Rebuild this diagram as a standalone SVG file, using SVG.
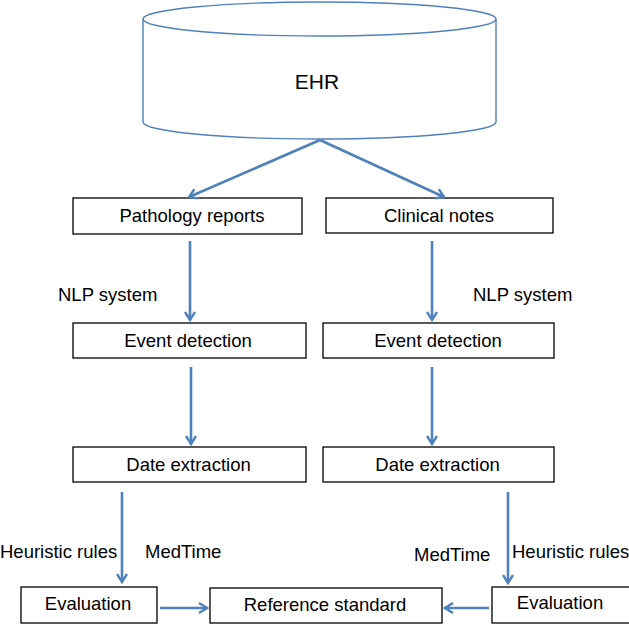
<svg xmlns="http://www.w3.org/2000/svg" width="629" height="624" viewBox="0 0 629 624">
<defs>
<marker id="ah" markerWidth="12" markerHeight="12" viewBox="0 0 12 12" refX="10" refY="6" orient="auto" markerUnits="userSpaceOnUse">
<path d="M2,1 L10,6 L2,11" fill="none" stroke="#4F81BD" stroke-width="2.4"/>
</marker>
</defs>
<style>
.box{fill:#fff;stroke:#000;stroke-width:1.3}
.t{font-family:"Liberation Sans",Arial,sans-serif;font-size:18.5px;fill:#000}
.c{text-anchor:middle}
.cyl{fill:#fff;stroke:#4F81BD;stroke-width:1.4}
.con line{stroke:#4F81BD;stroke-width:2.6;marker-end:url(#ah)}
</style>
<rect width="629" height="624" fill="#fff"/>
<g id="ehr">
<path class="cyl" d="M143,19 L143,122 A176.5,17 0 0 0 496,122 L496,19"/>
<ellipse class="cyl" cx="319.5" cy="19" rx="176.5" ry="17"/>
<text class="t c" x="317" y="89" style="font-size:21px">EHR</text>
</g>
<g id="pathology">
<rect class="box" x="73" y="198" width="229" height="36"/>
<text class="t c" x="192" y="222">Pathology reports</text>
</g>
<g id="clinical">
<rect class="box" x="326" y="198" width="227" height="35"/>
<text class="t c" x="439" y="222">Clinical notes</text>
</g>
<g id="event-left">
<rect class="box" x="73" y="323" width="233" height="35"/>
<text class="t c" x="188" y="347">Event detection</text>
</g>
<g id="event-right">
<rect class="box" x="323" y="323" width="231" height="35"/>
<text class="t c" x="438" y="347">Event detection</text>
</g>
<g id="date-left">
<rect class="box" x="73" y="447" width="233" height="35"/>
<text class="t c" x="188.5" y="471">Date extraction</text>
</g>
<g id="date-right">
<rect class="box" x="323" y="447" width="231" height="35"/>
<text class="t c" x="437.5" y="471">Date extraction</text>
</g>
<g id="eval-left">
<rect class="box" x="21" y="587" width="136" height="36"/>
<text class="t c" x="88" y="610">Evaluation</text>
</g>
<g id="reference">
<rect class="box" x="210" y="588" width="232" height="35"/>
<text class="t c" x="325" y="611">Reference standard</text>
</g>
<g id="eval-right">
<rect class="box" x="492" y="587" width="140" height="36"/>
<text class="t c" x="560" y="609">Evaluation</text>
</g>
<g id="labels">
<text class="t" x="58" y="301">NLP system</text>
<text class="t" x="473" y="301">NLP system</text>
<text class="t" x="0" y="558">Heuristic rules</text>
<text class="t" x="145" y="558">MedTime</text>
<text class="t" x="414" y="561">MedTime</text>
<text class="t" x="512" y="558">Heuristic rules</text>
</g>
<g id="connectors" class="con">
<line x1="320" y1="140" x2="189" y2="197"/>
<line x1="320" y1="140" x2="444" y2="197"/>
<line x1="190" y1="241" x2="190" y2="320"/>
<line x1="432" y1="241" x2="432" y2="320"/>
<line x1="191" y1="367" x2="191" y2="444"/>
<line x1="432" y1="367" x2="432" y2="444"/>
<line x1="122" y1="492" x2="122" y2="582"/>
<line x1="508" y1="492" x2="508" y2="583"/>
<line x1="160" y1="608" x2="207" y2="608"/>
<line x1="489" y1="608" x2="445" y2="608"/>
</g>
</svg>
